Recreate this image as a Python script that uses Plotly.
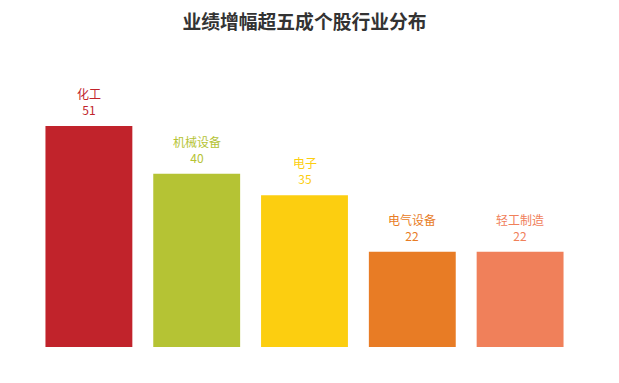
import plotly.graph_objects as go

categories = ["化工", "机械设备", "电子", "电气设备", "轻工制造"]
values = [51, 40, 35, 22, 22]
colors = ["#C1232B", "#B5C334", "#FCCE10", "#E87C25", "#F0805A"]
title = "业绩增幅超五成个股行业分布"

font_family = "Noto Sans CJK SC, Microsoft YaHei, sans-serif"

fig = go.Figure(go.Bar(
    x=categories, y=values, marker=dict(color=colors, line=dict(width=0)),
    hoverinfo="x+y",
))

annotations = []
for c, v, col in zip(categories, values, colors):
    annotations.append(dict(x=c, y=v, xref="x", yref="y", text=f"{c}<br>{v}", showarrow=False,
                            yanchor="middle", yshift=24.5, borderpad=0,
                            font=dict(size=12, color=col, family=font_family)))

# page body has an 8px default margin, so the figure is shrunk and shifted accordingly
fig.update_layout(
    width=611, height=375,
    margin=dict(l=26.5, r=44.5, t=79, b=36),
    paper_bgcolor="white", plot_bgcolor="white",
    bargap=0.194,
    title=dict(text="<b>" + title + "</b>", x=0.4853, xanchor="center", y=0.9627, yanchor="middle",
               font=dict(size=18.8, color="#333333", family=font_family)),
    xaxis=dict(visible=False),
    yaxis=dict(visible=False, range=[0, 60]),
    annotations=annotations,
    showlegend=False,
)

fig.write_html("out.html")
